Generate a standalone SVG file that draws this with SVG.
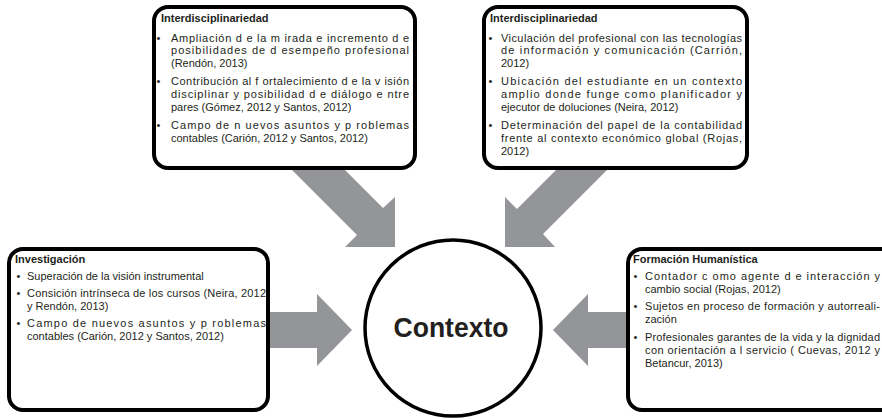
<svg xmlns="http://www.w3.org/2000/svg" width="882" height="419" viewBox="0 0 882 419">
<style>
.box{fill:#fff;stroke:#000;stroke-width:4}
.arrow{fill:#939598}
.t{font-family:"Liberation Sans",Arial,sans-serif;font-size:11px;fill:#231f20}
.h{font-weight:700}
.b{text-anchor:middle}
.c{fill:#fff;stroke:#000;stroke-width:3.5}
.ct{font-family:"Liberation Sans",Arial,sans-serif;font-size:27px;font-weight:700;fill:#231f20;text-anchor:middle}
</style>
<g id="connectors">
<polygon class="arrow" points="282,160 335,160 383,208 395,197 395,247 345,247 357,235"/>
<polygon class="arrow" points="566,160 617,160 543,234 555,247 505,247 505,197 517,209"/>
<polygon class="arrow" points="266,312 317,312 317,294 352,330 317,366 317,348 266,348"/>
<polygon class="arrow" points="632,312 588,312 588,294 553,330 588,366 588,348 632,348"/>
</g>
<g id="interdisciplinariedad-1">
<rect class="box" x="154" y="7" width="261" height="161" rx="14"/>
<text class="t h" x="161" y="22">Interdisciplinariedad</text>
<text class="t b" x="158.5" y="41.5">•</text>
<text class="t" x="171" y="41.5" textLength="238" lengthAdjust="spacing">Ampliación d e la m irada e incremento d e</text>
<text class="t" x="171" y="54.3" textLength="238" lengthAdjust="spacing">posibilidades de d esempeño profesional</text>
<text class="t" x="171" y="67.1">(Rendón, 2013)</text>
<text class="t b" x="158.5" y="85.3">•</text>
<text class="t" x="171" y="85.3" textLength="238" lengthAdjust="spacing">Contribución al f ortalecimiento d e la v isión</text>
<text class="t" x="171" y="98.1" textLength="238" lengthAdjust="spacing">disciplinar y posibilidad d e diálogo e ntre</text>
<text class="t" x="171" y="110.9">pares (Gómez, 2012 y Santos, 2012)</text>
<text class="t b" x="158.5" y="129.1">•</text>
<text class="t" x="171" y="129.1" textLength="238" lengthAdjust="spacing">Campo de n uevos asuntos y p roblemas</text>
<text class="t" x="171" y="141.9">contables (Carión, 2012 y Santos, 2012)</text>
</g>
<g id="interdisciplinariedad-2">
<rect class="box" x="484" y="7" width="263" height="161" rx="14"/>
<text class="t h" x="490" y="22">Interdisciplinariedad</text>
<text class="t b" x="490.5" y="41.5">•</text>
<text class="t" x="501" y="41.5" textLength="241" lengthAdjust="spacing">Viculación del profesional con las tecnologías</text>
<text class="t" x="501" y="54.3" textLength="241" lengthAdjust="spacing">de información y comunicación (Carrión,</text>
<text class="t" x="501" y="67.1">2012)</text>
<text class="t b" x="490.5" y="85.3">•</text>
<text class="t" x="501" y="85.3" textLength="241" lengthAdjust="spacing">Ubicación del estudiante en un contexto</text>
<text class="t" x="501" y="98.1" textLength="241" lengthAdjust="spacing">amplio donde funge como planificador y</text>
<text class="t" x="501" y="110.9">ejecutor de doluciones (Neira, 2012)</text>
<text class="t b" x="490.5" y="129.1">•</text>
<text class="t" x="501" y="129.1" textLength="241" lengthAdjust="spacing">Determinación del papel de la contabilidad</text>
<text class="t" x="501" y="141.9" textLength="241" lengthAdjust="spacing">frente al contexto económico global (Rojas,</text>
<text class="t" x="501" y="154.7">2012)</text>
</g>
<g id="investigacion">
<rect class="box" x="9" y="249" width="259" height="161" rx="14"/>
<text class="t h" x="15" y="263">Investigación</text>
<text class="t b" x="18.5" y="280">•</text>
<text class="t" x="27" y="280">Superación de la visión instrumental</text>
<text class="t b" x="18.5" y="297">•</text>
<text class="t" x="27" y="297" textLength="239" lengthAdjust="spacing">Consición intrínseca de los cursos (Neira, 2012</text>
<text class="t" x="27" y="309.8">y Rendón, 2013)</text>
<text class="t b" x="18.5" y="327">•</text>
<text class="t" x="27" y="327" textLength="239" lengthAdjust="spacing">Campo de nuevos asuntos y p roblemas</text>
<text class="t" x="27" y="339.8">contables (Carión, 2012 y Santos, 2012)</text>
</g>
<g id="formacion-humanistica">
<rect class="box" x="628" y="249" width="270" height="161" rx="14"/>
<text class="t h" x="633" y="263">Formación Humanística</text>
<text class="t b" x="635.5" y="280">•</text>
<text class="t" x="645" y="280" textLength="235" lengthAdjust="spacing">Contador c omo agente d e interacción y</text>
<text class="t" x="645" y="292.8">cambio social (Rojas, 2012)</text>
<text class="t b" x="635.5" y="310">•</text>
<text class="t" x="645" y="310" textLength="235" lengthAdjust="spacing">Sujetos en proceso de formación y autorreali-</text>
<text class="t" x="645" y="322.8">zación</text>
<text class="t b" x="635.5" y="341">•</text>
<text class="t" x="645" y="341" textLength="235" lengthAdjust="spacing">Profesionales garantes de la vida y la dignidad</text>
<text class="t" x="645" y="353.8" textLength="235" lengthAdjust="spacing">con orientación a l servicio ( Cuevas, 2012 y</text>
<text class="t" x="645" y="366.6">Betancur, 2013)</text>
</g>
<g id="contexto">
<circle class="c" cx="453" cy="328" r="88"/>
<text class="ct" x="451" y="337" textLength="115" lengthAdjust="spacingAndGlyphs">Contexto</text>
</g>
</svg>
